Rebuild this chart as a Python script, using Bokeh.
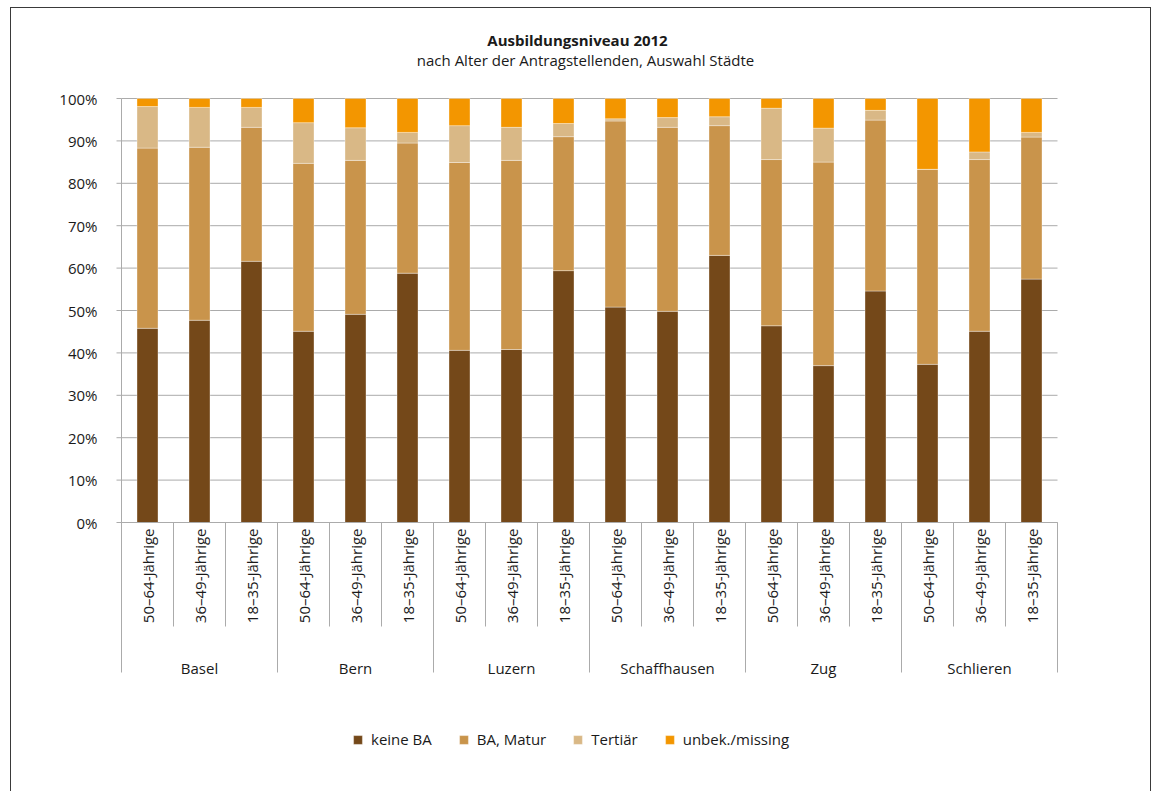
import numpy as np
from bokeh.plotting import figure
from bokeh.models import Range1d, ColumnDataSource, Legend, LegendItem
from bokeh.core.properties import value
from bokeh.embed import file_html
from bokeh.resources import INLINE

# ---------------- data ----------------
cities = ["Basel", "Bern", "Luzern", "Schaffhausen", "Zug", "Schlieren"]
ages = ["50\u201364-Jährige", "36\u201349-Jährige", "18\u201335-Jährige"]
series = ["keine BA", "BA, Matur", "Tertiär", "unbek./missing"]
colors = ["#744819", "#C9944B", "#D9B886", "#F39600"]

# cumulative tops (percent), order: city x age
keine_ba_top = [45.8, 47.7, 61.6, 45.1, 49.1, 58.8, 40.6, 40.8, 59.4,
                50.8, 49.8, 63.0, 46.4, 37.0, 54.6, 37.3, 45.1, 57.4]
ba_matur_top = [88.3, 88.5, 93.2, 84.7, 85.4, 89.5, 84.9, 85.4, 91.0,
                94.7, 93.2, 93.6, 85.6, 85.0, 94.9, 83.3, 85.6, 90.9]
tertiaer_top = [98.1, 97.9, 97.9, 94.3, 93.1, 92.0, 93.6, 93.2, 94.1,
                95.2, 95.5, 95.7, 97.7, 93.0, 97.2, 83.3, 87.4, 92.0]

keine_ba = list(np.array(keine_ba_top))
ba_matur = list(np.array(ba_matur_top) - np.array(keine_ba_top))
tertiaer = list(np.array(tertiaer_top) - np.array(ba_matur_top))
missing = list(100 - np.array(tertiaer_top))

y_ticks = list(range(0, 101, 10))
y_tick_labels = [f"{t}%" for t in y_ticks]

title_text = "Ausbildungsniveau 2012"
subtitle_text = "nach Alter der Antragstellenden, Auswahl Städte"

# ---------------- layout (pixels) ----------------
W, H = 1141, 784
FRAME_LEFT, FRAME_TOP = 110, 90        # canvas px of plot area top-left
SLOT = 52.0                            # px per category
PX_PER_PCT = 4.24                      # px per percent
FRAME_BOTTOM = FRAME_TOP + 100 * PX_PER_PCT

def ux(px):  # canvas px -> data x
    return (px - FRAME_LEFT) / SLOT

def uy(py):  # canvas px (from top) -> data y
    return (FRAME_BOTTOM - py) / PX_PER_PCT

FONT = "Open Sans"
TXT = "#1a1a1a"
GRID = "#ababab"

p = figure(width=W, height=H, output_backend="svg", toolbar_location=None,
           x_range=Range1d(ux(0), ux(W)), y_range=Range1d(uy(H), uy(0)),
           min_border=0, min_border_left=0, min_border_right=0,
           min_border_top=0, min_border_bottom=0)
p.axis.visible = False
p.grid.visible = False
p.outline_line_color = None
p.background_fill_color = "white"
p.border_fill_color = "white"
p.margin = (7, 0, 0, 10)
p.styles = {"border-top": "1px solid #3a3a3a", "border-left": "1px solid #3a3a3a",
            "border-right": "1px solid #3a3a3a"}

n = len(cities) * len(ages)
xs = np.arange(n) + 0.5

# gridlines
p.segment(x0=[0] * len(y_ticks), x1=[n] * len(y_ticks), y0=y_ticks, y1=y_ticks,
          line_color=GRID, line_width=1)
# y tick marks
p.segment(x0=[-5 / SLOT] * len(y_ticks), x1=[0] * len(y_ticks), y0=y_ticks, y1=y_ticks,
          line_color=GRID, line_width=1)
# y axis line
p.segment(x0=[0], x1=[0], y0=[0], y1=[100], line_color=GRID, line_width=1)
# y labels
p.text(x=[-24 / SLOT] * len(y_ticks), y=y_ticks, text=y_tick_labels,
       text_align="right", text_baseline="middle", text_font=value(FONT),
       text_font_size="15px", text_color=TXT)

# bars
src = ColumnDataSource(dict(x=xs, k=keine_ba, b=ba_matur, t=tertiaer, m=missing))
renderers = p.vbar_stack(["k", "b", "t", "m"], x="x", width=21 / SLOT, source=src,
                         color=colors, line_color="white", line_alpha=0.35, line_width=1)

# x axis line
p.segment(x0=[0], x1=[n], y0=[0], y1=[0], line_color=GRID, line_width=1)

# category separators
bounds = np.arange(n + 1)
is_group = (bounds % len(ages)) == 0
low_small = uy(FRAME_BOTTOM + 104)
low_group = uy(FRAME_BOTTOM + 150)
p.segment(x0=bounds, x1=bounds, y0=[0] * (n + 1),
          y1=[low_group if g else low_small for g in is_group],
          line_color=GRID, line_width=1)

# age labels (rotated)
p.text(x=xs, y=[uy(FRAME_BOTTOM + 6)] * n, text=ages * len(cities), angle=np.pi / 2,
       text_align="right", text_baseline="middle", text_font=value(FONT),
       text_font_size="15px", text_color=TXT)

# city labels
gx = np.arange(len(cities)) * len(ages) + len(ages) / 2
p.text(x=gx, y=[uy(FRAME_BOTTOM + 145)] * len(cities), text=cities,
       text_align="center", text_baseline="middle", text_font=value(FONT),
       text_font_size="15px", text_color=TXT)

# titles
p.text(x=[ux(566)], y=[uy(31)], text=[title_text], text_align="center",
       text_baseline="middle", text_font=value(FONT), text_font_size="15px",
       text_font_style="bold", text_color=TXT)
p.text(x=[ux(574)], y=[uy(51)], text=[subtitle_text], text_align="center",
       text_baseline="middle", text_font=value(FONT), text_font_size="15px",
       text_color=TXT)

# legend
legend = Legend(items=[LegendItem(label=s, renderers=[r]) for s, r in zip(series, renderers)],
                orientation="horizontal", location=(341, H - 731 - 10),
                glyph_width=11, glyph_height=11, label_standoff=8, spacing=26,
                padding=0, margin=0, border_line_color=None,
                background_fill_alpha=0, label_text_font=FONT,
                label_text_font_size="15px", label_text_color=TXT,
                label_height=20)
p.add_layout(legend, "center")

open("out.html", "w").write(file_html(p, INLINE))
